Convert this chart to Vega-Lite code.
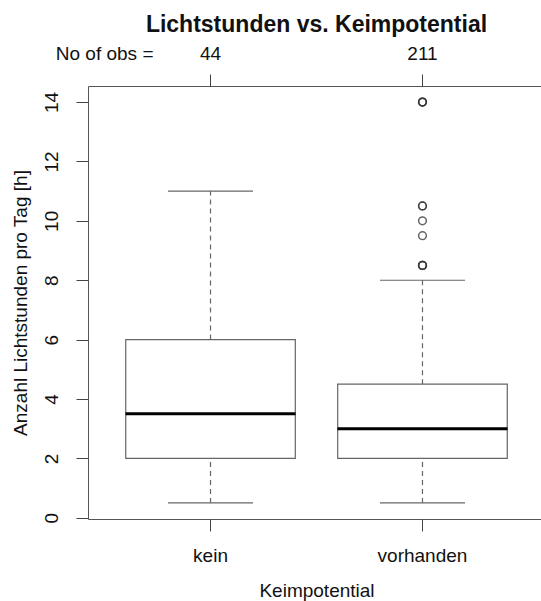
{
  "$schema": "https://vega.github.io/schema/vega-lite/v6.json",
  "autosize": "none",
  "width": 457,
  "height": 433,
  "padding": {"left": 88, "top": 86, "right": 0, "bottom": 82},
  "background": "white",
  "config": {
    "font": "Liberation Sans",
    "view": {"stroke": "#555", "strokeWidth": 1},
    "axis": {
      "labelFont": "Liberation Sans",
      "titleFont": "Liberation Sans",
      "labelFontSize": 19,
      "titleFontSize": 19,
      "titleFontWeight": "normal",
      "labelColor": "#111",
      "titleColor": "#111",
      "tickColor": "#444",
      "tickSize": 12,
      "grid": false,
      "domain": false
    }
  },
  "title": {
    "text": "Lichtstunden vs. Keimpotential",
    "font": "Liberation Sans",
    "fontSize": 23,
    "fontWeight": "bold",
    "color": "#111",
    "anchor": "middle",
    "offset": 7
  },
  "datasets": {
    "boxes": [
      {"Keimpotential": "kein", "n": 44, "lower": 0.5, "q1": 2, "median": 3.5, "q3": 6, "upper": 11},
      {"Keimpotential": "vorhanden", "n": 211, "lower": 0.5, "q1": 2, "median": 3, "q3": 4.5, "upper": 8}
    ],
    "outliers": [
      {"Keimpotential": "vorhanden", "value": 8.5},
      {"Keimpotential": "vorhanden", "value": 8.5},
      {"Keimpotential": "vorhanden", "value": 8.5},
      {"Keimpotential": "vorhanden", "value": 9.5},
      {"Keimpotential": "vorhanden", "value": 10},
      {"Keimpotential": "vorhanden", "value": 10.5},
      {"Keimpotential": "vorhanden", "value": 10.5},
      {"Keimpotential": "vorhanden", "value": 14},
      {"Keimpotential": "vorhanden", "value": 14},
      {"Keimpotential": "vorhanden", "value": 14}
    ]
  },
  "layer": [
    {
      "data": {"name": "boxes"},
      "mark": {"type": "rule", "color": "#666", "strokeWidth": 1.2, "strokeDash": [5, 4]},
      "encoding": {
        "x": {
          "field": "Keimpotential", "type": "nominal",
          "scale": {"type": "band", "domain": ["kein", "vorhanden"], "paddingInner": 0.2, "paddingOuter": 0.178},
          "axis": {
            "orient": "bottom", "title": "Keimpotential", "labelAngle": 0,
            "labelBaseline": "middle", "labelPadding": 24,
            "titleY": 71, "titleBaseline": "middle"
          }
        },
        "y": {
          "field": "q3", "type": "quantitative",
          "scale": {"domain": [-0.04, 14.54], "nice": false, "zero": false},
          "axis": {
            "values": [0, 2, 4, 6, 8, 10, 12, 14],
            "labelAngle": 270, "labelAlign": "center", "labelBaseline": "middle", "labelPadding": 25,
            "title": "Anzahl Lichtstunden pro Tag [h]",
            "titleAngle": 270, "titleX": -68, "titleY": 216.5,
            "titleAlign": "center", "titleBaseline": "middle"
          }
        },
        "y2": {"field": "upper"}
      }
    },
    {
      "data": {"name": "boxes"},
      "mark": {"type": "rule", "color": "#666", "strokeWidth": 1.2, "strokeDash": [5, 4]},
      "encoding": {
        "x": {
          "field": "Keimpotential", "type": "nominal",
          "scale": {"type": "band", "domain": ["kein", "vorhanden"], "paddingInner": 0.2, "paddingOuter": 0.178},
          "axis": {
            "orient": "top", "title": "No of obs =", "labelAngle": 0,
            "labelExpr": "datum.value === 'kein' ? '44' : '211'",
            "labelBaseline": "middle", "labelPadding": 21,
            "titleX": 65, "titleY": -33, "titleAlign": "right", "titleBaseline": "middle"
          }
        },
        "y": {"field": "lower", "type": "quantitative"},
        "y2": {"field": "q1"}
      }
    },
    {
      "data": {"name": "boxes"},
      "mark": {"type": "tick", "color": "#666", "opacity": 1, "thickness": 1.2, "size": 85},
      "encoding": {
        "x": {"field": "Keimpotential", "type": "nominal", "axis": null,
              "scale": {"type": "band", "domain": ["kein", "vorhanden"], "paddingInner": 0.2, "paddingOuter": 0.178}},
        "y": {"field": "upper", "type": "quantitative"}
      }
    },
    {
      "data": {"name": "boxes"},
      "mark": {"type": "tick", "color": "#666", "opacity": 1, "thickness": 1.2, "size": 85},
      "encoding": {
        "x": {"field": "Keimpotential", "type": "nominal", "axis": null,
              "scale": {"type": "band", "domain": ["kein", "vorhanden"], "paddingInner": 0.2, "paddingOuter": 0.178}},
        "y": {"field": "lower", "type": "quantitative"}
      }
    },
    {
      "data": {"name": "boxes"},
      "mark": {"type": "bar", "fill": "white", "stroke": "#666", "strokeWidth": 1.2},
      "encoding": {
        "x": {"field": "Keimpotential", "type": "nominal", "axis": null,
              "scale": {"type": "band", "domain": ["kein", "vorhanden"], "paddingInner": 0.2, "paddingOuter": 0.178}},
        "y": {"field": "q1", "type": "quantitative"},
        "y2": {"field": "q3"}
      }
    },
    {
      "data": {"name": "boxes"},
      "mark": {"type": "tick", "color": "#000", "opacity": 1, "thickness": 3, "size": 170},
      "encoding": {
        "x": {"field": "Keimpotential", "type": "nominal", "axis": null,
              "scale": {"type": "band", "domain": ["kein", "vorhanden"], "paddingInner": 0.2, "paddingOuter": 0.178}},
        "y": {"field": "median", "type": "quantitative"}
      }
    },
    {
      "data": {"name": "outliers"},
      "mark": {"type": "point", "shape": "circle", "filled": false, "color": "#333", "strokeWidth": 1.5, "size": 60, "opacity": 0.75},
      "encoding": {
        "x": {"field": "Keimpotential", "type": "nominal", "axis": null,
              "scale": {"type": "band", "domain": ["kein", "vorhanden"], "paddingInner": 0.2, "paddingOuter": 0.178}},
        "y": {"field": "value", "type": "quantitative"}
      }
    }
  ],
  "resolve": {"axis": {"x": "independent"}}
}
